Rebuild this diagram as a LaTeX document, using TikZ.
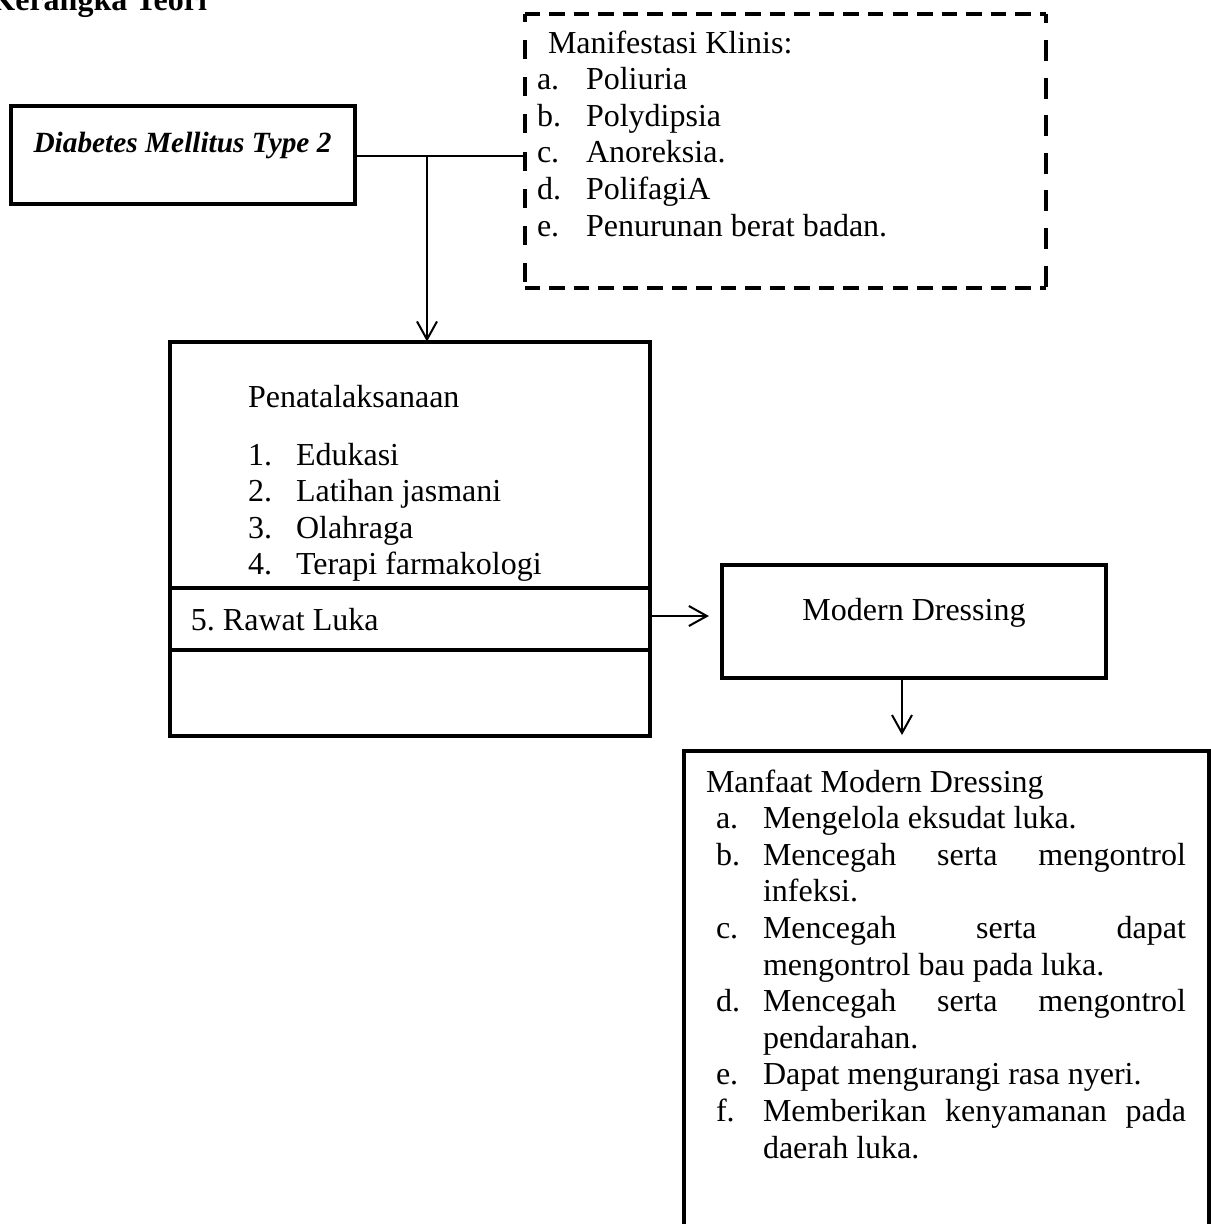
\documentclass[tikz,border=0pt]{standalone}
\usepackage{fontspec}
\setmainfont{Liberation Serif}
\usetikzlibrary{arrows.meta,fit}
\begin{document}
\begin{tikzpicture}[x=0.375pt,y=-0.375pt,
  box/.style={draw, line width=1.5pt, inner sep=0pt, outer sep=0pt},
  ghost/.style={inner sep=0pt, outer sep=0pt},
  conn/.style={line width=0.75pt},
  arr/.style={conn, -{Straight Barb[length=6.75pt,width=7.5pt]}},
  txt/.style={font=\fontsize{12pt}{13.7pt}\selectfont, inner sep=0pt, outer sep=0pt, anchor=base west},
  txtb/.style={txt, font=\fontsize{12pt}{13.7pt}\selectfont\bfseries},
  txtbi/.style={txt, font=\fontsize{11pt}{13pt}\selectfont\bfseries\itshape},
  hdash/.style={line width=1.5pt, dash pattern=on 5.8pt off 3.4pt},
  vdashl/.style={line width=1.5pt, dash pattern=on 7.1pt off 6.85pt, dash phase=4pt},
  vdashr/.style={line width=1.5pt, dash pattern=on 7.9pt off 6.2pt, dash phase=4.2pt},
  thick line/.style={line width=1.5pt}
]
\useasboundingbox (0,0) rectangle (1211,1224);

% title
\node[txtb, anchor=base east] (title) at (207,10) {Kerangka Teori};

% Diabetes box
\coordinate (dmA) at (11,105.5);
\coordinate (dmB) at (354.5,203.5);
\node[box, fit=(dmA)(dmB)] (dm) {};
\node[txtbi, anchor=base] (dmt) at (182.5,152) {Diabetes Mellitus Type 2};

% Manifestasi dashed box
\coordinate (mkA) at (524.5,13.5);
\coordinate (mkB) at (1046,287.5);
\node[ghost, fit=(mkA)(mkB)] (mk) {};
\draw[hdash] (mk.north west) -- (mk.north east);
\draw[hdash] (mk.south west) -- (mk.south east);
\draw[vdashl] (mk.north west) -- (mk.south west);
\draw[vdashr] (mk.north east) -- (mk.south east);
\node[txt] (mk0) at (548,53) {Manifestasi Klinis:};
\node[txt] (mk1l) at (537,89.6) {a.};
\node[txt] (mk1) at (586,89.6) {Poliuria};
\node[txt] (mk2l) at (537,126.2) {b.};
\node[txt] (mk2) at (586,126.2) {Polydipsia};
\node[txt] (mk3l) at (537,162.8) {c.};
\node[txt] (mk3) at (586,162.8) {Anoreksia.};
\node[txt] (mk4l) at (537,199.4) {d.};
\node[txt] (mk4) at (586,199.4) {PolifagiA};
\node[txt] (mk5l) at (537,236) {e.};
\node[txt] (mk5) at (586,236) {Penurunan berat badan.};

% Penatalaksanaan box
\coordinate (pnA) at (169.5,341.5);
\coordinate (pnB) at (649.5,735.5);
\node[box, fit=(pnA)(pnB)] (pn) {};
\coordinate (d1) at (169.5,587.5);
\coordinate (d2) at (169.5,650);
\draw[thick line] (d1) -- (d1 -| pn.east);
\draw[thick line] (d2) -- (d2 -| pn.east);
\node[txt] (pn0) at (248,407) {Penatalaksanaan};
\node[txt] (pn1l) at (248,465) {1.};
\node[txt] (pn1) at (296,465) {Edukasi};
\node[txt] (pn2l) at (248,501.6) {2.};
\node[txt] (pn2) at (296,501.6) {Latihan jasmani};
\node[txt] (pn3l) at (248,538.2) {3.};
\node[txt] (pn3) at (296,538.2) {Olahraga};
\node[txt] (pn4l) at (248,574.8) {4.};
\node[txt] (pn4) at (296,574.8) {Terapi farmakologi};
\node[txt] (pn5) at (191,630) {5.\ Rawat Luka};

% Modern Dressing box
\coordinate (mdA) at (722,565);
\coordinate (mdB) at (1106,677.5);
\node[box, fit=(mdA)(mdB)] (md) {};
\node[txt, anchor=base] (mdt) at (914,620) {Modern Dressing};

% Manfaat box (cut by the page bottom)
\coordinate (mfA) at (683.5,750.5);
\coordinate (mfB) at (1209,1224);
\node[ghost, fit=(mfA)(mfB)] (mf) {};
\draw[thick line] (mf.south west) |- (mf.north east) -- (mf.south east);
\node[txt] (mf0) at (706,792) {Manfaat Modern Dressing};
\node[txt] (mf1l) at (716,828.6) {a.};
\node[txt] (mf1) at (763,828.6) {Mengelola eksudat luka.};
\node[txt] (mf2l) at (716,865.2) {b.};
\node[txt] (mf2) at (763,865.2) {\makebox[158.6pt][s]{Mencegah serta mengontrol}};
\node[txt] (mf2b) at (763,901.8) {infeksi.};
\node[txt] (mf3l) at (716,938.4) {c.};
\node[txt] (mf3) at (763,938.4) {\makebox[158.6pt][s]{Mencegah serta dapat}};
\node[txt] (mf3b) at (763,975) {mengontrol bau pada luka.};
\node[txt] (mf4l) at (716,1011.6) {d.};
\node[txt] (mf4) at (763,1011.6) {\makebox[158.6pt][s]{Mencegah serta mengontrol}};
\node[txt] (mf4b) at (763,1048.2) {pendarahan.};
\node[txt] (mf5l) at (716,1084.8) {e.};
\node[txt] (mf5) at (763,1084.8) {Dapat mengurangi rasa nyeri.};
\node[txt] (mf6l) at (716,1121.4) {f.};
\node[txt] (mf6) at (763,1121.4) {\makebox[158.6pt][s]{Memberikan kenyamanan pada}};
\node[txt] (mf6b) at (763,1158) {daerah luka.};

% connectors
\coordinate (j) at (427,156);
\draw[conn] (dm.east |- j) -- (mk.west |- j);
\draw[arr] (j) -- (j |- pn.north);
\coordinate (r5) at (690,616);
\draw[arr, shorten >=4.9pt] (pn.east |- r5) -- (md.west |- r5);
\coordinate (dn) at (902,710);
\draw[arr, shorten >=5.8pt] (md.south -| dn) -- (mf.north -| dn);
\end{tikzpicture}
\end{document}
